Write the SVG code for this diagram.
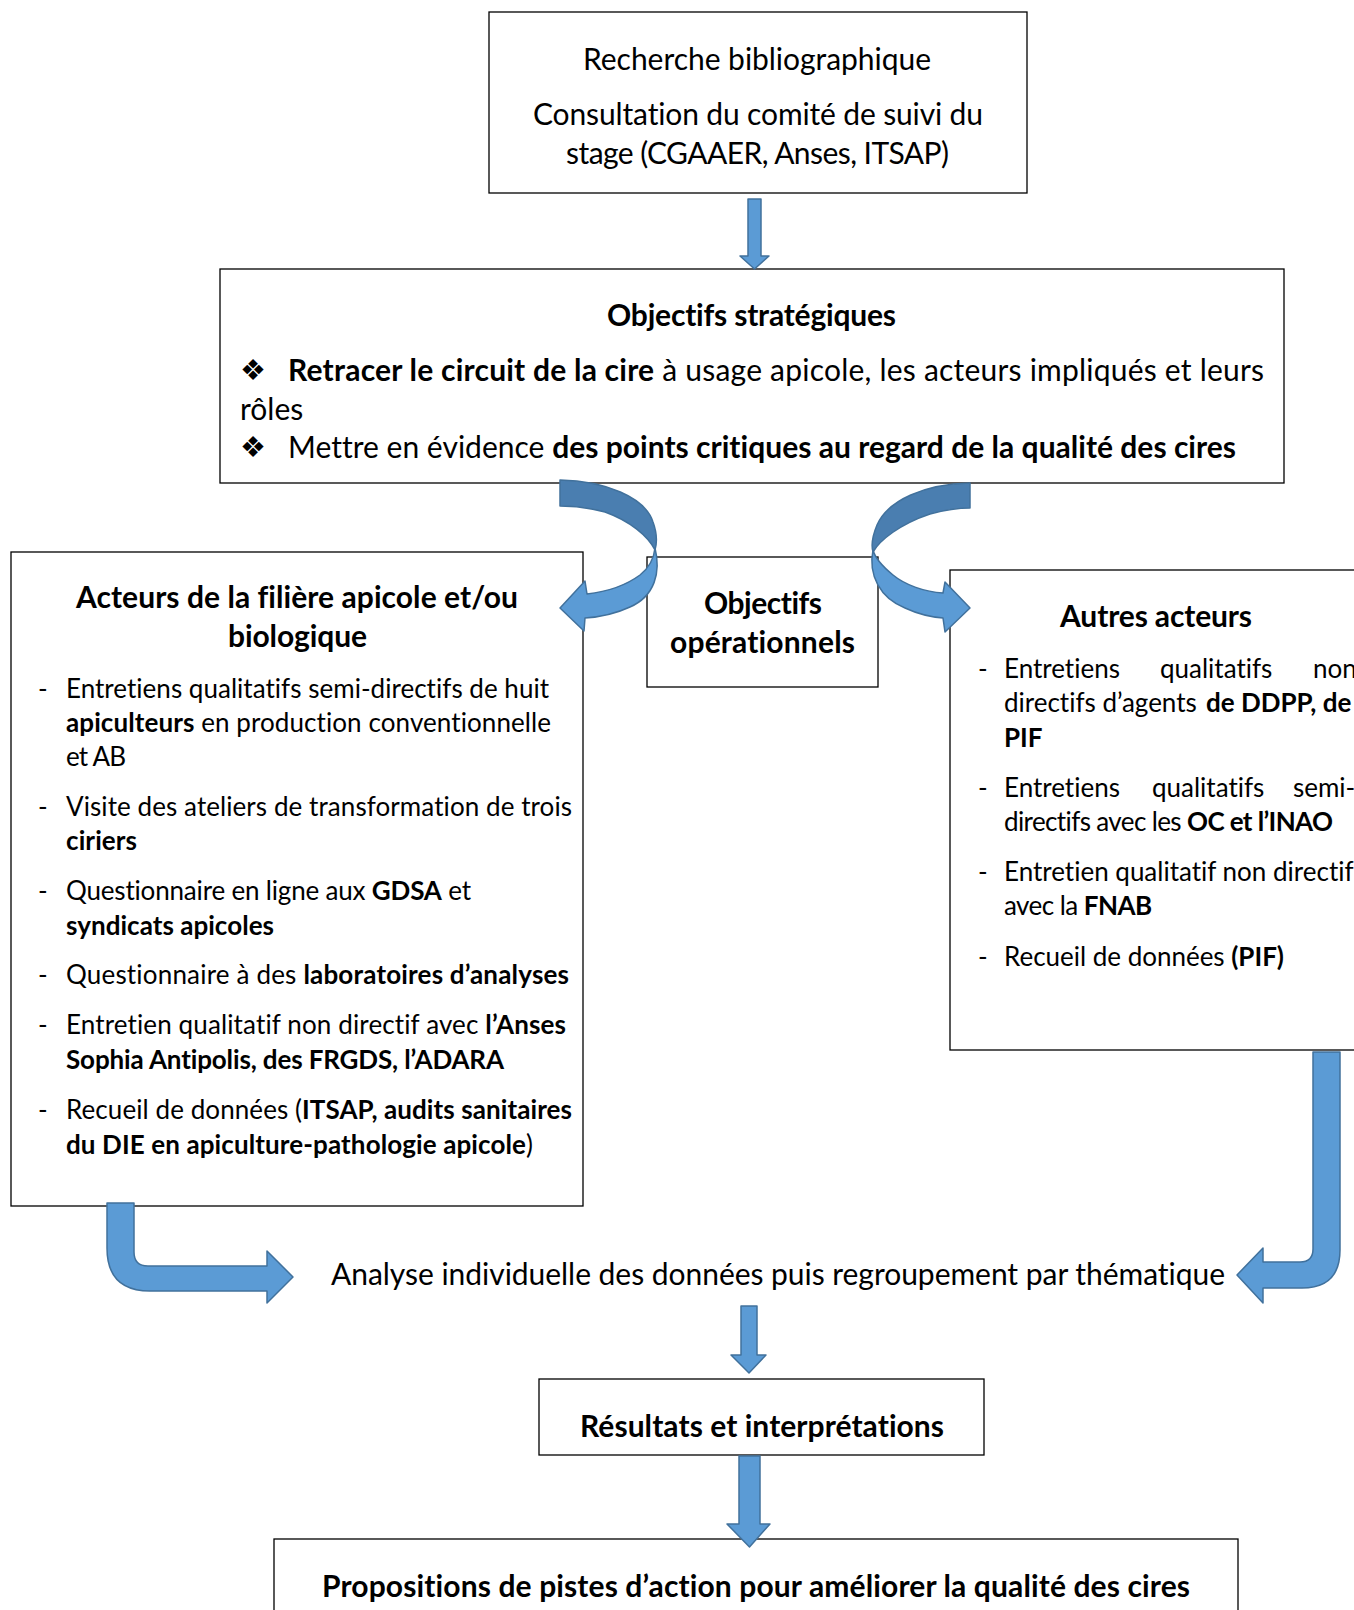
<svg xmlns="http://www.w3.org/2000/svg" width="1354" height="1610" viewBox="0 0 1354 1610">
<style>
.box{fill:#fff;stroke:#000;stroke-width:1.3}
.t{font-family:Lato,"Liberation Sans",sans-serif;fill:#000;font-variant-ligatures:none}
.big{font-size:30px}
.body{font-size:26px}
.b{font-weight:bold}
.dia{font-family:"DejaVu Sans",sans-serif;font-size:29px}
.arr{fill:#5B9BD5;stroke:#41719C;stroke-width:1.5;stroke-linejoin:round}
.arrd{fill:#4A7EB0;stroke:#41719C;stroke-width:1.5;stroke-linejoin:round}
</style>

<g id="node-recherche">
<rect class="box" x="489" y="12" width="538" height="181"/>
<text class="t big" x="583" y="70" textLength="348">Recherche bibliographique</text>
<text class="t big" x="533" y="125" textLength="450">Consultation du comité de suivi du</text>
<text class="t big" x="566" y="164" textLength="383">stage (CGAAER, Anses, ITSAP)</text>
</g>

<g id="node-strategiques">
<rect class="box" x="220" y="269" width="1064" height="214"/>
<text class="t big b" x="607" y="326" textLength="289">Objectifs stratégiques</text>
<text class="dia" x="240" y="380">❖</text>
<text class="t big" x="288" y="381" textLength="976"><tspan class="b">Retracer le circuit de la cire</tspan> à usage apicole, les acteurs impliqués et leurs</text>
<text class="t big" x="240" y="420">rôles</text>
<text class="dia" x="240" y="457">❖</text>
<text class="t big" x="288" y="458" textLength="948">Mettre en évidence <tspan class="b">des points critiques au regard de la qualité des cires</tspan></text>
</g>

<g id="node-operationnels">
<rect class="box" x="647" y="557" width="231" height="130"/>
<text class="t big b" x="704" y="614" textLength="118">Objectifs</text>
<text class="t big b" x="670" y="653" textLength="185">opérationnels</text>
</g>

<g id="node-filiere">
<rect class="box" x="11" y="552" width="572" height="654"/>
<text class="t big b" x="76" y="608" textLength="442">Acteurs de la filière apicole et/ou</text>
<text class="t big b" x="228" y="647" textLength="139">biologique</text>
<g class="t body">
<text x="38" y="698">-</text>
<text x="66" y="698" textLength="483">Entretiens qualitatifs semi-directifs de huit</text>
<text x="66" y="732" textLength="485"><tspan class="b">apiculteurs</tspan> en production conventionnelle</text>
<text x="66" y="766" textLength="60">et AB</text>
<text x="38" y="816">-</text>
<text x="66" y="816" textLength="506">Visite des ateliers de transformation de trois</text>
<text x="66" y="850" class="b" textLength="71">ciriers</text>
<text x="38" y="900">-</text>
<text x="66" y="900" textLength="405">Questionnaire en ligne aux <tspan class="b">GDSA</tspan> et</text>
<text x="66" y="935" class="b" textLength="208">syndicats apicoles</text>
<text x="38" y="984">-</text>
<text x="66" y="984" textLength="503">Questionnaire à des <tspan class="b">laboratoires d’analyses</tspan></text>
<text x="38" y="1034">-</text>
<text x="66" y="1034" textLength="500">Entretien qualitatif non directif avec <tspan class="b">l’Anses</tspan></text>
<text x="66" y="1069" class="b" textLength="438">Sophia Antipolis, des FRGDS, l’ADARA</text>
<text x="38" y="1119">-</text>
<text x="66" y="1119" textLength="506">Recueil de données (<tspan class="b">ITSAP, audits sanitaires</tspan></text>
<text x="66" y="1154" textLength="467"><tspan class="b">du DIE en apiculture-pathologie apicole</tspan>)</text>
</g>
</g>

<g id="node-autres">
<rect class="box" x="950" y="570" width="430" height="480"/>
<text class="t big b" x="1060" y="627" textLength="192">Autres acteurs</text>
<g class="t body">
<text x="978" y="678">-</text>
<text x="1004" y="678">Entretiens</text>
<text x="1160" y="678">qualitatifs</text>
<text x="1313" y="678">non</text>
<text x="1004" y="712">directifs d’agents</text>
<text x="1206" y="712" class="b">de DDPP, de</text>
<text x="1004" y="747" class="b">PIF</text>
<text x="978" y="797">-</text>
<text x="1004" y="797">Entretiens</text>
<text x="1152" y="797">qualitatifs</text>
<text x="1293" y="797">semi-</text>
<text x="1004" y="831" textLength="329">directifs avec les <tspan class="b">OC et l’INAO</tspan></text>
<text x="978" y="881">-</text>
<text x="1004" y="881">Entretien qualitatif non directif</text>
<text x="1004" y="915" textLength="148">avec la <tspan class="b">FNAB</tspan></text>
<text x="978" y="966">-</text>
<text x="1004" y="966" textLength="280">Recueil de données <tspan class="b">(PIF)</tspan></text>
</g>
</g>

<g id="node-analyse">
<text class="t big" x="331" y="1285" textLength="894">Analyse individuelle des données puis regroupement par thématique</text>
</g>

<g id="node-resultats">
<rect class="box" x="539" y="1379" width="445" height="76"/>
<text class="t big b" x="580" y="1437" textLength="364">Résultats et interprétations</text>
</g>

<g id="node-propositions">
<rect class="box" x="274" y="1539" width="964" height="90"/>
<text class="t big b" x="322" y="1597" textLength="868">Propositions de pistes d’action pour améliorer la qualité des cires</text>
</g>

<g id="connectors">
<path class="arr" d="M748,199 L761,199 L761,256 L769,256 L754.5,269 L740,256 L748,256 Z"/>
<path class="arrd" d="M560,480 C605,481 645,497 653,522 C657,533 657,543 655,550 C648,536 630,521 605,512 C590,508 575,506 560,506 Z"/>
<path class="arr" d="M655,548 C661,572 655,596 630,607 C615,614 600,617 585,618 L584,631 L560,608 L585,581 L587,594 C605,592 625,586 640,575 C650,567 654,558 655,548 Z"/>
<path class="arrd" d="M970,483 C925,484 888,500 877,525 C872,537 871,545 873,552 C880,540 900,524 930,514 C945,510 958,508 970,508 Z"/>
<path class="arr" d="M873,550 C868,575 880,598 905,608 C918,614 930,617 943,618 L945,632 L970,608 L945,582 L943,593 C925,592 905,585 893,575 C882,566 875,558 873,550 Z"/>
<path class="arr" d="M107,1203 L134,1203 L134,1252 Q134,1266 148,1266 L267,1266 L267,1251 L293,1277 L267,1303 L267,1291 L150,1291 Q107,1291 107,1248 Z"/>
<path class="arr" d="M1313,1052 L1340,1052 L1340,1250 Q1340,1288 1302,1288 L1263,1288 L1263,1303 L1237,1275 L1263,1248 L1263,1262 L1300,1262 Q1313,1262 1313,1249 Z"/>
<path class="arr" d="M741,1306 L757,1306 L757,1355 L766,1355 L749,1373 L731,1355 L741,1355 Z"/>
<path class="arr" d="M739,1456 L760,1456 L760,1524 L770,1524 L749.5,1547 L727,1524 L739,1524 Z"/>
</g>
</svg>
